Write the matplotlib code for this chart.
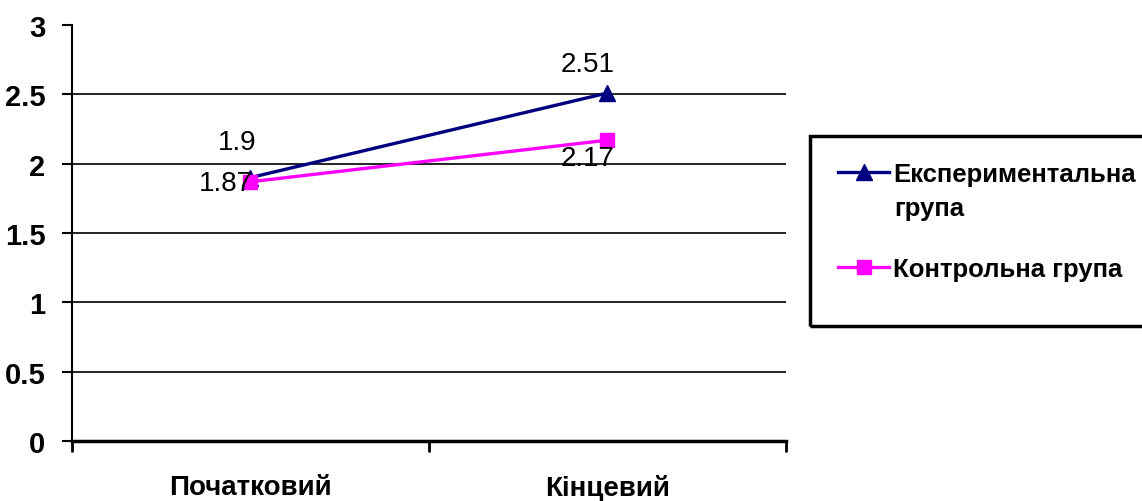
import matplotlib
matplotlib.use("Agg")
import matplotlib.pyplot as plt
from matplotlib.patches import Rectangle
from matplotlib import font_manager

# Data
stages = ["Початковий", "Кінцевий"]
exp_group = [1.9, 2.51]
ctrl_group = [1.87, 2.17]
series_names = ["Експериментальна", "Контрольна група"]
exp_name_tail = "група"
y_ticks = [0, 0.5, 1, 1.5, 2, 2.5, 3]
y_tick_labels = ["0", "0.5", "1", "1.5", "2", "2.5", "3"]

installed = {f.name for f in font_manager.fontManager.ttflist}
narrow = "Liberation Sans Narrow" if "Liberation Sans Narrow" in installed else "Liberation Sans"
plain = "Liberation Sans"

W, H = 1142, 502
fig = plt.figure(figsize=(W / 100, H / 100), dpi=100)
ax = fig.add_axes([0.063, 0.1195, 0.625, 0.8285])

x = [i + 0.5 for i in range(len(stages))]
l1, = ax.plot(x, exp_group, color="#000080", lw=2.4, marker="^", ms=11,
              markeredgecolor="#000080", markerfacecolor="#000080", zorder=3)
l2, = ax.plot(x, ctrl_group, color="#FF00FF", lw=2.4, marker="s", ms=10,
              markeredgecolor="#FF00FF", markerfacecolor="#FF00FF", zorder=3)

# value labels
offs_exp = [(-13, 36), (-20, 29)]
offs_ctrl = [(-25, -1), (-20, -18)]
for xi, v, o in zip(x, exp_group, offs_exp):
    ax.annotate(f"{v:g}", (xi, v), xytext=o, textcoords="offset pixels",
                ha="center", va="center", fontsize=20, family=plain, zorder=4)
for xi, v, o in zip(x, ctrl_group, offs_ctrl):
    ax.annotate(f"{v:g}", (xi, v), xytext=o, textcoords="offset pixels",
                ha="center", va="center", fontsize=20, family=plain, zorder=4)

ax.set_xlim(0, len(stages))
ax.set_ylim(0, 3)

# horizontal gridlines
for t in y_ticks[1:-1]:
    ax.axhline(t, color="black", lw=1.2, zorder=1)

ax.set_yticks(y_ticks)
ax.set_yticklabels(y_tick_labels, fontsize=21, fontweight="bold", family=narrow)
ax.tick_params(axis="y", length=7, width=1.5, pad=12)

ax.set_xticks(range(len(stages) + 1))
ax.set_xticklabels([])
ax.tick_params(axis="x", which="major", length=8, width=2)
ax.set_xticks(x, minor=True)
ax.set_xticklabels(stages, minor=True, fontsize=20, fontweight="bold", family=narrow)
ax.tick_params(axis="x", which="minor", length=0, pad=24)

for s in ("top", "right"):
    ax.spines[s].set_visible(False)
ax.spines["left"].set_linewidth(1.5)
ax.spines["bottom"].set_linewidth(2.5)

# legend box
fig.patches.append(Rectangle((810 / W, 1 - 327 / H), 0.4, 190 / H,
                             transform=fig.transFigure, fill=False,
                             edgecolor="black", lw=2.5))
leg = fig.legend([l1, l2], series_names, loc="upper left",
                 bbox_to_anchor=(838 / W, 1 - 163 / H), frameon=False,
                 prop={"family": narrow, "weight": "bold", "size": 18.5},
                 handlelength=2.0, handletextpad=0.15, labelspacing=2.75,
                 borderpad=0, borderaxespad=0)
fig.text(894 / W, 1 - 209 / H, exp_name_tail, ha="left", va="center",
         family=narrow, fontweight="bold", fontsize=18.5)

fig.savefig("out.png", dpi=100, facecolor="white")
